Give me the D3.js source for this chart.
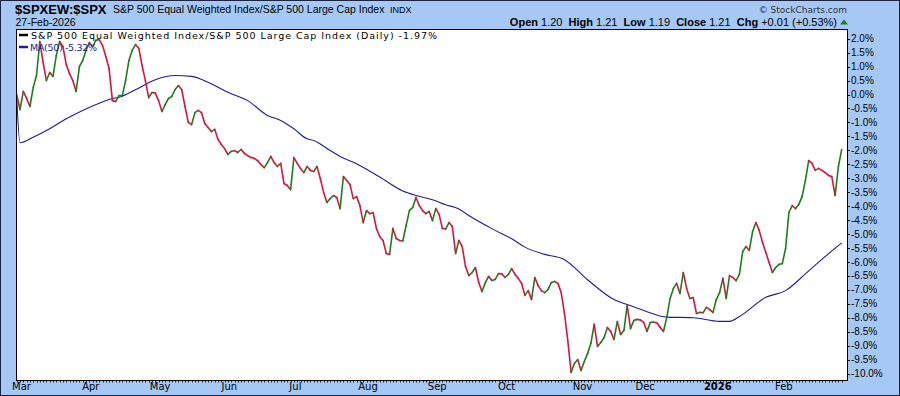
<!DOCTYPE html>
<html>
<head>
<meta charset="utf-8">
<script src="https://cdn.jsdelivr.net/npm/d3@7/dist/d3.min.js"></script>
<style>
body{margin:0;padding:0;background:#fff;}
svg{display:block;}
</style>
</head>
<body>
<div id="chart"></div>
<script>

// $SPXEW:$SPX, % change from first bar, one value per trading day (28-Feb-2025 .. 27-Feb-2026)
var pctVals = [
  0.00,-0.54, 0.11,-0.14,-0.43, 0.25, 0.68, 1.90, 1.15, 0.50,
  0.79, 0.65, 1.40, 1.90, 1.72, 1.08, 0.75, 0.50, 0.11, 1.00,
  1.22, 1.58, 1.86, 1.72, 1.94, 1.97, 1.76, 1.36, 0.93,-0.22,
 -0.25,-0.04,-0.04, 0.50, 1.22, 1.58, 1.79, 1.65, 1.04, 0.50,
 -0.11, 0.07, 0.05,-0.22,-0.61,-0.36,-0.14,-0.07, 0.18, 0.32,
  0.18,-0.43,-1.00,-1.08,-0.65,-0.57,-0.65,-1.04,-1.18,-1.33,
 -1.25,-1.61,-1.79,-1.94,-2.15,-2.04,-2.01,-2.08,-1.97,-2.11,
 -2.19,-2.26,-2.29,-2.37,-2.51,-2.62,-2.44,-2.22,-2.44,-2.58,
 -2.47,-3.19,-3.26,-3.41,-2.26,-2.47,-2.65,-2.80,-2.58,-2.72,
 -2.76,-2.58,-3.01,-3.51,-3.87,-3.73,-3.62,-3.69,-4.09,-2.94,
 -3.08,-3.23,-3.73,-3.66,-3.98,-4.59,-4.16,-4.27,-4.23,-4.80,
 -5.09,-5.23,-5.70,-5.73,-4.80,-5.16,-5.23,-5.25,-4.70,-4.16,
 -4.05,-3.69,-3.98,-4.16,-4.27,-4.19,-4.52,-4.09,-4.30,-4.80,
 -4.82,-4.59,-4.73,-5.70,-5.23,-5.45,-6.16,-6.49,-6.38,-6.20,
 -6.74,-7.06,-6.74,-6.52,-6.67,-6.63,-6.42,-6.43,-6.56,-6.45,
 -6.24,-6.45,-6.59,-6.77,-7.20,-7.03,-7.35,-6.56,-6.85,-7.03,
 -7.10,-6.99,-6.74,-6.70,-6.77,-7.10,-7.85,-8.82,-9.96,-9.64,
 -9.50,-9.89,-9.57,-9.28,-8.92,-8.24,-9.03,-8.89,-8.71,-8.35,
 -8.49,-8.78,-8.14,-8.60,-8.46,-7.56,-8.39,-8.10,-8.06,-8.08,
 -8.17,-8.49,-8.17,-8.16,-8.18,-8.35,-8.49,-7.99,-7.31,-6.95,
 -6.77,-7.13,-6.38,-6.95,-7.31,-7.28,-7.85,-7.81,-7.82,-7.63,
 -7.71,-7.81,-7.35,-7.10,-6.59,-7.31,-6.49,-6.56,-6.67,-6.45,
 -5.63,-5.45,-5.59,-4.91,-4.59,-4.87,-5.30,-5.66,-6.02,-6.38,
 -6.20,-6.09,-6.06,-5.52,-4.23,-3.98,-4.09,-3.94,-3.66,-3.08,
 -2.37,-2.47,-2.72,-2.65,-2.72,-2.80,-2.90,-2.94,-3.62,-2.58,
 -1.97
];

// MA(50) at these bar numbers
var maIdx  = [0, 1, 5, 10, 15, 20, 25, 28, 32, 36, 42, 48, 53, 58, 64, 70, 76, 80, 84, 88,
              90, 95, 98, 103, 110, 117, 121, 126, 130, 134, 137, 145, 150, 154, 160, 166, 173, 181, 185, 190,
              197, 205, 213, 216, 219, 227, 233, 239, 243, 250];
var maVals = [-0.07,-1.73,-1.53,-1.23,-0.87,-0.57,-0.31,-0.18,-0.06, 0.17, 0.53, 0.68, 0.65, 0.44, 0.08,-0.22,-0.75,-0.93,-1.23,-1.59,
              -1.65,-2.01,-2.22,-2.48,-2.96,-3.46,-3.62,-3.77,-3.95,-4.10,-4.34,-4.87,-5.17,-5.47,-5.73,-5.92,-6.64,-7.35,-7.53,-7.74,
              -7.98,-8.00,-8.13,-8.13,-7.96,-7.27,-7.03,-6.43,-6.01,-5.32];

// first trading day of each month (bar number)
var monthNames = ["Mar","Apr","May","Jun","Jul","Aug","Sep","Oct","Nov","Dec","2026","Feb"];
var monthIdx   = [1, 22, 43, 64, 84, 106, 127, 148, 171, 190, 212, 232];

var yTicks = [2.0,1.5,1.0,0.5,0.0,-0.5,-1.0,-1.5,-2.0,-2.5,-3.0,-3.5,-4.0,-4.5,-5.0,-5.5,-6.0,-6.5,-7.0,-7.5,-8.0,-8.5,-9.0,-9.5,-10.0];

var W = 900, H = 396;
var pl = 16, pt = 29, pr = 847, pb = 380;

var upColor = "#1d7d1d", downColor = "#dc143c", maColor = "#1c1c9c";

var svg = d3.select("#chart").append("svg")
    .attr("width", W)
    .attr("height", H)
    .style("font-family", "'Liberation Sans', Arial, sans-serif");

// background + frame
svg.append("rect").attr("x",0).attr("y",0).attr("width",W).attr("height",H).attr("fill","#a5c8f4");
svg.append("rect").attr("x",0.5).attr("y",0.5).attr("width",W-1).attr("height",H-1)
    .attr("fill","none").attr("stroke","#1e2340").attr("stroke-width",1);

svg.append("rect").attr("x",pl+0.5).attr("y",pt+0.5).attr("width",pr-pl).attr("height",pb-pt)
    .attr("fill","#fff").attr("stroke","#000").attr("stroke-width",1);

svg.append("clipPath").attr("id","clip")
  .append("rect").attr("x",pl+1).attr("y",pt+1).attr("width",pr-pl-1).attr("height",pb-pt-1);

var xScale = d3.scaleLinear().domain([0, pctVals.length-1]).range([16.7, 841.7]);
var yScale = d3.scaleLinear().domain([-10, 2]).range([373.5, 38.7]);

var g = svg.append("g").attr("clip-path","url(#clip)");

// MA(50)
var maLine = d3.line()
    .x(function(d){return xScale(d[0])})
    .y(function(d){return yScale(d[1])})
    .curve(d3.curveMonotoneX);

g.append("path")
    .datum(d3.zip(maIdx, maVals))
    .attr("d", maLine)
    .attr("fill","none")
    .attr("stroke", maColor)
    .attr("stroke-width", 1.1);

// price, each segment coloured by direction
g.selectAll(".seg")
    .data(d3.range(1, pctVals.length))
    .enter().append("line")
    .attr("class","seg")
    .attr("x1", function(i){return xScale(i-1)})
    .attr("y1", function(i){return yScale(pctVals[i-1])})
    .attr("x2", function(i){return xScale(i)})
    .attr("y2", function(i){return yScale(pctVals[i])})
    .attr("stroke", function(i){return pctVals[i] >= pctVals[i-1] ? upColor : downColor})
    .attr("stroke-width", 1.6)
    .attr("stroke-linecap","round");

// y axis on the right
var yAx = svg.append("g");
yAx.selectAll("line").data(yTicks).enter().append("line")
    .attr("x1", pr).attr("x2", pr+3)
    .attr("y1", function(d){return Math.round(yScale(d))+0.5})
    .attr("y2", function(d){return Math.round(yScale(d))+0.5})
    .attr("stroke","#000");
yAx.selectAll("text").data(yTicks).enter().append("text")
    .attr("x", pr+4)
    .attr("y", function(d){return yScale(d)+3.6})
    .attr("font-size", 10)
    .attr("fill","#000")
    .text(function(d){return d.toFixed(1) + "%"});

// x axis: a dot per bar and month labels
svg.append("g").selectAll("rect").data(d3.range(pctVals.length)).enter().append("rect")
    .attr("x", function(i){return Math.round(xScale(i))})
    .attr("y", pb+1)
    .attr("width",1).attr("height",1.5)
    .attr("fill","#223");

svg.append("g").selectAll("text").data(monthNames).enter().append("text")
    .attr("x", function(d,i){return xScale(monthIdx[i]) + 1.5})
    .attr("y", 390)
    .attr("text-anchor","middle")
    .attr("font-family","'DejaVu Sans', Verdana, sans-serif")
    .attr("font-size", 10)
    .attr("font-weight", function(d){return d=="2026" ? "bold" : "normal"})
    .attr("fill","#000")
    .text(function(d){return d});

// header
svg.append("text").attr("x",15).attr("y",13.5)
    .attr("font-size",13).attr("font-weight","bold").text("$SPXEW:$SPX");
svg.append("text").attr("x",113).attr("y",12.5)
    .attr("font-size",10.5).text("S&P 500 Equal Weighted Index/S&P 500 Large Cap Index");
svg.append("text").attr("x",390).attr("y",12.5)
    .attr("font-size",9).text("INDX");
svg.append("text").attr("x",15.5).attr("y",26)
    .attr("font-size",10.5).text("27-Feb-2026");

svg.append("text").attr("x",847).attr("y",12.5).attr("text-anchor","end")
    .attr("font-family","'DejaVu Sans', Verdana, sans-serif")
    .attr("font-size",9).attr("fill","#333").text("\u00a9 StockCharts.com");

var info = svg.append("text").attr("x",837).attr("y",25.5).attr("text-anchor","end")
    .attr("font-size",11).style("white-space","pre");
var infoParts = [["Open",true],[" 1.20  ",false],["High",true],[" 1.21  ",false],["Low",true],[" 1.19  ",false],
                 ["Close",true],[" 1.21  ",false],["Chg",true],[" +0.01 (+0.53%)",false]];
infoParts.forEach(function(p){
  info.append("tspan").attr("font-weight", p[1] ? "bold" : "normal").text(p[0]);
});
svg.append("path").attr("d","M840,24.5L848,24.5L844,19.5Z").attr("fill", upColor);

// legend
svg.append("line").attr("x1",19).attr("x2",28).attr("y1",35).attr("y2",35)
    .attr("stroke","#000").attr("stroke-width",2.5);
svg.append("text").attr("x",31).attr("y",38.5)
    .attr("font-family","'DejaVu Sans', Verdana, sans-serif").attr("font-size",9.5)
    .attr("textLength",406).attr("lengthAdjust","spacing")
    .text("S&P 500 Equal Weighted Index/S&P 500 Large Cap Index (Daily) -1.97%");
svg.append("line").attr("x1",19).attr("x2",28).attr("y1",47).attr("y2",47)
    .attr("stroke",maColor).attr("stroke-width",2.5);
svg.append("text").attr("x",30).attr("y",50.5)
    .attr("font-family","'DejaVu Sans', Verdana, sans-serif").attr("font-size",9.5)
    .attr("textLength",67).attr("lengthAdjust","spacing")
    .attr("fill",maColor)
    .text("MA(50) -5.32%");

</script>
</body>
</html>
